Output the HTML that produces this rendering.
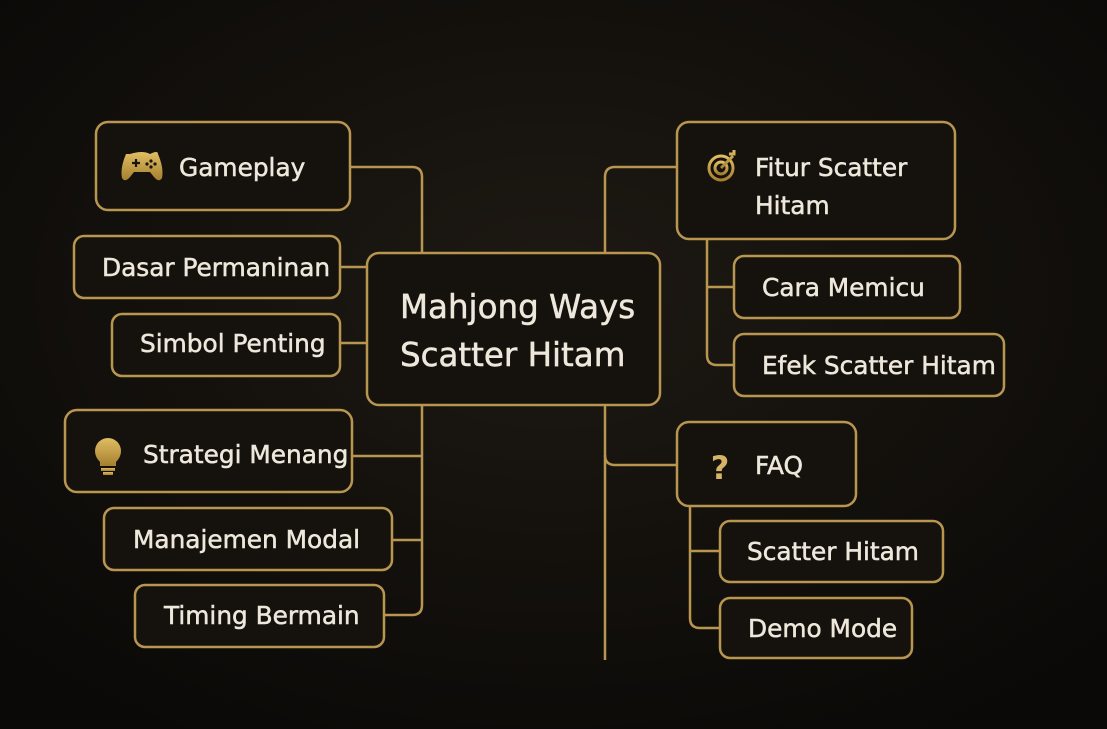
<!DOCTYPE html>
<html><head><meta charset="utf-8"><style>
html,body{margin:0;padding:0;width:1107px;height:729px;overflow:hidden;background:#0e0c09}
svg{display:block}
text{font-family:"DejaVu Sans","Liberation Sans",sans-serif;fill:#eee8dc;stroke:#eee8dc;stroke-width:0.5}
</style></head><body>
<svg width="1107" height="729" viewBox="0 0 1107 729">
<defs>
<radialGradient id="bg" cx="0.5" cy="0.4" r="0.7">
<stop offset="0" stop-color="#1e1913"/><stop offset="1" stop-color="#0a0907"/>
</radialGradient>
<linearGradient id="gold" x1="0" y1="0" x2="0" y2="1">
<stop offset="0" stop-color="#e0bd63"/><stop offset="1" stop-color="#a5802f"/>
</linearGradient>
</defs>
<rect width="1107" height="729" fill="url(#bg)"/>
<g fill="none" stroke="#b8964f" stroke-width="2.5">
<path d="M350 167 H412 Q422 167 422 177 V253"/>
<path d="M422 405 V605 Q422 615 412 615 H384"/>
<path d="M352 456 H422"/>
<path d="M392 540 H422"/>
<path d="M340 267 H367"/>
<path d="M340 343 H367"/>
<path d="M605 253 V177 Q605 167 615 167 H677"/>
<path d="M605 405 V660"/>
<path d="M605 455 Q605 465 615 465 H677"/>
<path d="M707 239 V355 Q707 365 717 365 H734"/>
<path d="M707 287 H734"/>
<path d="M690 506 V618 Q690 628 700 628 H720"/>
<path d="M690 551 H720"/>
</g>
<g fill="#15120d" stroke="#b8964f" stroke-width="2.5">
<rect x="96" y="122" width="254" height="88" rx="12"/>
<rect x="74" y="236" width="266" height="62" rx="10"/>
<rect x="112" y="314" width="228" height="62" rx="10"/>
<rect x="367" y="253" width="293" height="152" rx="12"/>
<rect x="65" y="410" width="287" height="82" rx="12"/>
<rect x="104" y="508" width="288" height="62" rx="10"/>
<rect x="135" y="585" width="249" height="62" rx="10"/>
<rect x="677" y="122" width="278" height="117" rx="12"/>
<rect x="734" y="256" width="226" height="62" rx="10"/>
<rect x="734" y="334" width="270" height="62" rx="10"/>
<rect x="677" y="422" width="179" height="84" rx="12"/>
<rect x="720" y="521" width="223" height="61" rx="10"/>
<rect x="720" y="598" width="192" height="60" rx="10"/>
</g>
<g fill="url(#gold)">
<path d="M130 154 Q143 150 150 154 Q158 150 158 154 Q164 168 162 178 Q159 183 154 177 L150 172 H134 L130 177 Q125 183 122 178 Q120 168 126 154 Z"/>
<path d="M108 438 a13 13 0 0 1 13 13 q0 6 -5 11 v4 h-16 v-4 q-5 -5 -5 -11 a13 13 0 0 1 13 -13z"/>
<rect x="101" y="468" width="14" height="3"/><rect x="103" y="472" width="10" height="3"/>
</g>
<g stroke="#1a150e" stroke-width="2.2" fill="none"><path d="M132 163 h8 M136 159 v8"/></g>
<g fill="#1a150e"><circle cx="151" cy="161" r="1.6"/><circle cx="155" cy="164" r="1.6"/><circle cx="147" cy="164" r="1.6"/><circle cx="151" cy="167" r="1.6"/></g>
<g stroke="url(#gold)" fill="none" stroke-width="3">
<circle cx="721" cy="168" r="12"/><circle cx="721" cy="168" r="6"/>
<path d="M721 168 L733 156 M729 154 l5 0 l0 -4"/>
</g>
<text x="720" y="479" font-size="32" font-weight="bold" text-anchor="middle" style="fill:#d6b466;stroke:none">?</text>
<g font-size="24.8">
<text x="179" y="176">Gameplay</text>
<text x="102" y="276">Dasar Permaninan</text>
<text x="140" y="352">Simbol Penting</text>
<text x="143" y="463">Strategi Menang</text>
<text x="133" y="548">Manajemen Modal</text>
<text x="164" y="624">Timing Bermain</text>
<text x="755" y="176">Fitur Scatter</text>
<text x="755" y="214">Hitam</text>
<text x="762" y="296">Cara Memicu</text>
<text x="762" y="374">Efek Scatter Hitam</text>
<text x="755" y="474">FAQ</text>
<text x="747" y="560">Scatter Hitam</text>
<text x="748" y="637">Demo Mode</text>
</g>
<g font-size="32.5">
<text x="400" y="318">Mahjong Ways</text>
<text x="400" y="366">Scatter Hitam</text>
</g>
</svg>
</body></html>
